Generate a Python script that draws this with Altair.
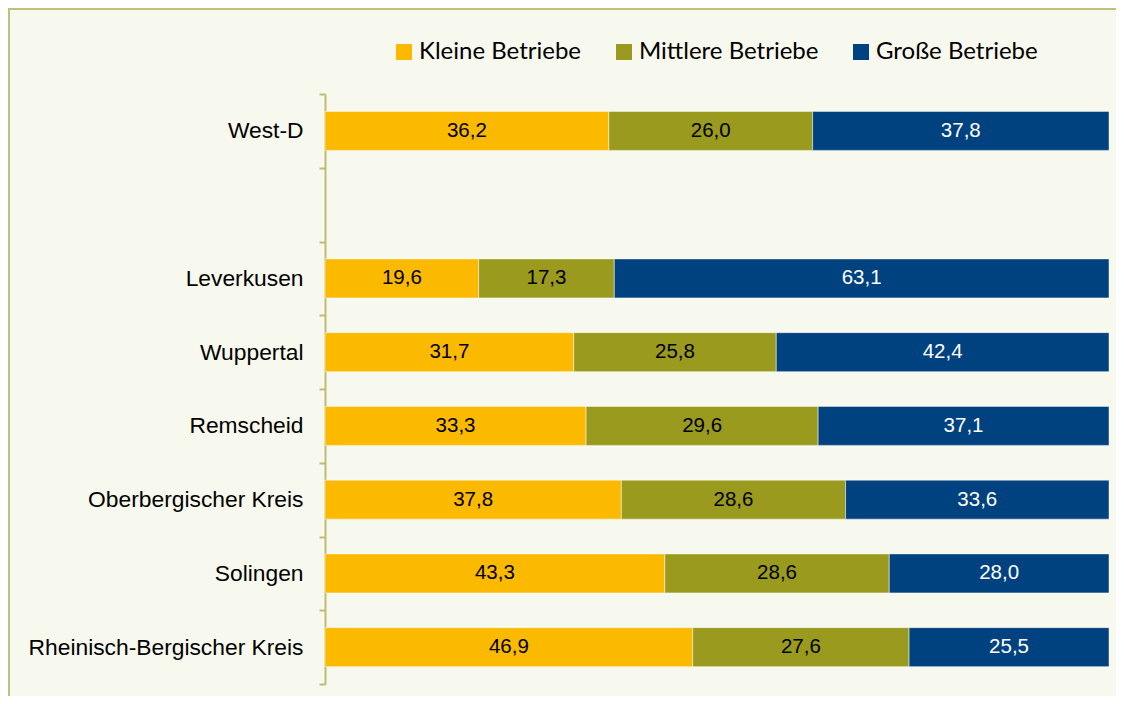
import altair as alt
import pandas as pd

regions = ["West-D", " ", "Leverkusen", "Wuppertal", "Remscheid",
           "Oberbergischer Kreis", "Solingen", "Rheinisch-Bergischer Kreis"]
data_regions = ["West-D", "Leverkusen", "Wuppertal", "Remscheid",
                "Oberbergischer Kreis", "Solingen", "Rheinisch-Bergischer Kreis"]
series = ["Kleine Betriebe", "Mittlere Betriebe", "Große Betriebe"]
kleine = [36.2, 19.6, 31.7, 33.3, 37.8, 43.3, 46.9]
mittlere = [26.0, 17.3, 25.8, 29.6, 28.6, 28.6, 27.6]
grosse = [37.8, 63.1, 42.4, 37.1, 33.6, 28.0, 25.5]
colors = ["#FBB900", "#999A1E", "#00427F"]
text_colors = ["#000000", "#000000", "#FFFFFF"]

rows = []
for i, r in enumerate(data_regions):
    for j, (s, vals) in enumerate(zip(series, [kleine, mittlere, grosse])):
        rows.append({"region": r, "series": s, "order": j, "value": vals[i],
                     "tcolor": text_colors[j]})
df = pd.DataFrame(rows)

AXIS_COLOR = "#BFBB74"
FRAME_COLOR = "#C2BF7C"

base = alt.Chart(df).transform_stack(
    stack="value", groupby=["region"], as_=["v0", "v1"],
    offset="normalize", sort=[alt.SortField("order", order="ascending")]
).transform_calculate(
    mid="(datum.v0 + datum.v1) / 2",
    label="replace(format(datum.value, '.1f'), '.', ',')"
)

y_scale = alt.Scale(domain=regions, paddingInner=0, paddingOuter=0)

y_enc = alt.Y(
    "region:N",
    scale=y_scale,
    axis=alt.Axis(
        title=None, domainColor=AXIS_COLOR, domainWidth=2, tickColor=AXIS_COLOR,
        tickWidth=2, tickSize=6, tickBand="extent", labelFont="Liberation Sans",
        labelFontSize=22.8, labelColor="#000000", labelPadding=16, grid=False,
        labelLimit=400,
    ),
)

bars = base.mark_bar(height=39, stroke="#FFFFFF", strokeWidth=0.8, strokeOpacity=0.6).encode(
    y=y_enc,
    x=alt.X("v0:Q", axis=None, scale=alt.Scale(domain=[0, 1], nice=False)),
    x2="v1:Q",
    color=alt.Color(
        "series:N",
        scale=alt.Scale(domain=series, range=colors),
        legend=alt.Legend(
            title=None, orient="none", direction="horizontal", legendX=67,
            legendY=-54, symbolType="square", symbolSize=256, symbolStrokeWidth=0,
            labelFont="Lato", labelFontSize=24, labelColor="#000000",
            labelOffset=3, columnPadding=30, columns=3, labelLimit=500,
        ),
    ),
)

texts = base.mark_text(font="Liberation Sans", fontSize=20.5, baseline="middle").encode(
    y=alt.Y("region:N", scale=y_scale),
    x=alt.X("mid:Q"),
    text="label:N",
    color=alt.Color("tcolor:N", scale=None),
)

frame_df = pd.DataFrame({"k": [0]})
frame_left = alt.Chart(frame_df).mark_rule(color=FRAME_COLOR, strokeWidth=2).encode(
    x=alt.value(-316), y=alt.value(-85), y2=alt.value(610)
)
frame_top = alt.Chart(frame_df).mark_rule(color=FRAME_COLOR, strokeWidth=2).encode(
    x=alt.value(-317), x2=alt.value(800), y=alt.value(-85)
)

chart = alt.layer(bars, texts, frame_left, frame_top).properties(
    width=784, height=590,
    background="#F8F9EE",
    autosize=alt.AutoSizeParams(type="none"),
    padding={"left": 317, "top": 86, "right": 7, "bottom": 12},
).configure_view(stroke=None)

chart.save("out.html", embed_options={"renderer": "svg", "actions": False})
